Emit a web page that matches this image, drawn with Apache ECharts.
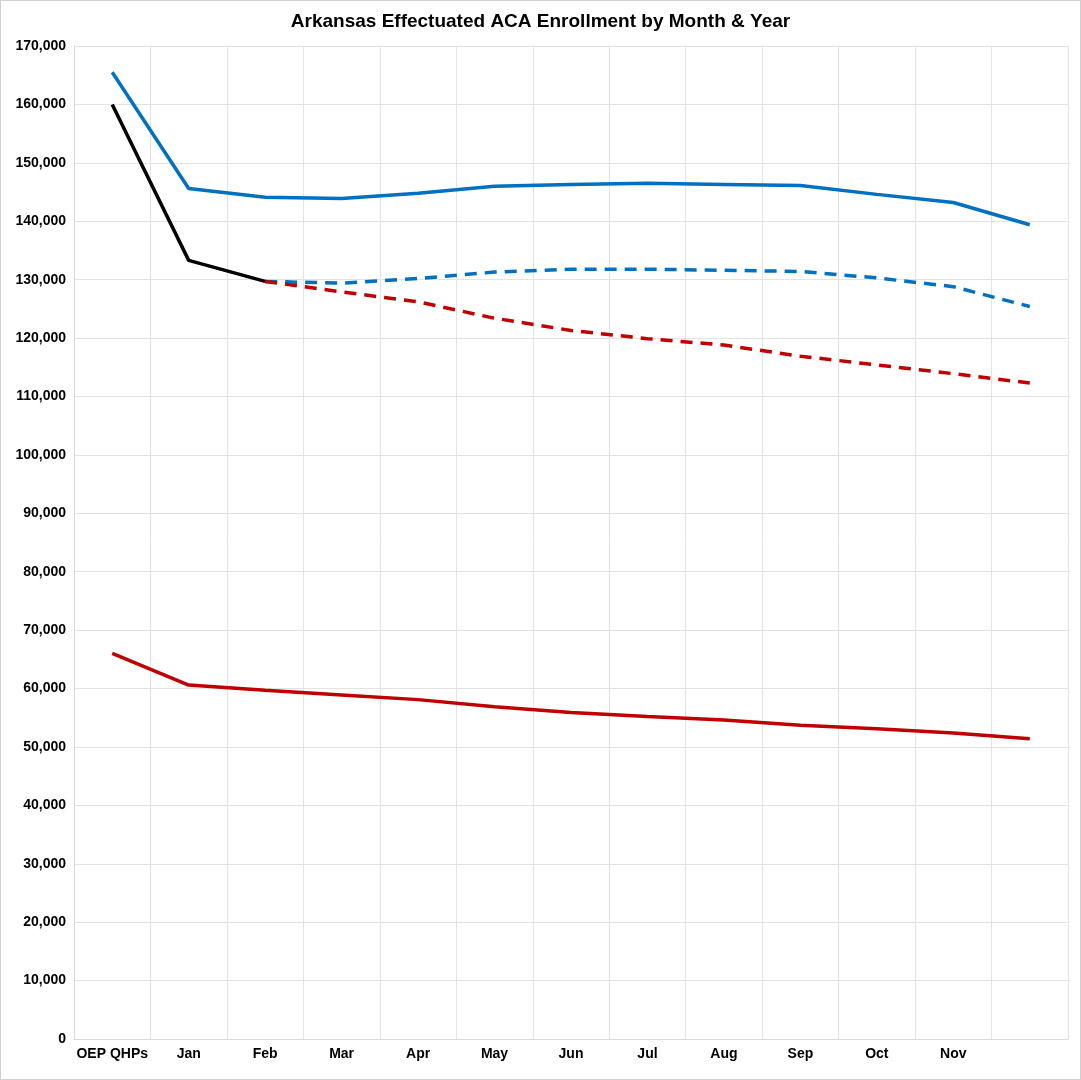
<!DOCTYPE html>
<html>
<head>
<meta charset="utf-8">
<script src="https://cdn.jsdelivr.net/npm/echarts@6/dist/echarts.min.js"></script>
<style>
html, body { margin: 0; padding: 0; background: #fff; }
#chart { width: 1081px; height: 1080px; box-sizing: border-box; border: 1px solid #d0d0d0; }
</style>
</head>
<body>
<div id="chart"></div>
<script>
// categories (last month has no label in the original)
var months = ['OEP QHPs', 'Jan', 'Feb', 'Mar', 'Apr', 'May', 'Jun', 'Jul', 'Aug', 'Sep', 'Oct', 'Nov', ''];

var y2025 = [165500, 145600, 144100, 143900, 144800, 146000, 146300, 146500, 146300, 146100, 144600, 143200, 139400];
var y2026 = [160000, 133300, 129700, null, null, null, null, null, null, null, null, null, null];
var model2025 = [null, null, 129700, 129400, 130200, 131300, 131800, 131800, 131600, 131400, 130300, 128800, 125400];
var model2019 = [null, null, 129700, 127900, 126200, 123400, 121300, 119900, 118800, 116900, 115400, 113900, 112300];
var y2019 = [66000, 60600, 59700, 58900, 58100, 56900, 55900, 55200, 54600, 53700, 53100, 52400, 51400];

var BLUE = '#0070C0', RED = '#C00000';

function firstLabel(arr, text, extra) {
    return arr.map(function (v, i) {
        if (i !== 0) return v;
        return {
            value: v,
            label: Object.assign({
                show: true, formatter: text, position: 'top', offset: [2, 0],
                fontWeight: 'bold', fontSize: 17, color: '#000'
            }, extra || {})
        };
    });
}

function lastLabel(arr, text) {
    var n = arr.length - 1;
    return arr.map(function (v, i) {
        if (i !== n) return v;
        return {
            value: v,
            label: {
                show: true, formatter: text, position: 'bottom', offset: [-36, -12],
                fontWeight: 'bold', fontSize: 13, color: '#000'
            }
        };
    });
}

function lineSeries(name, data, color, dashed, z) {
    return {
        name: name, type: 'line', data: data,
        symbol: 'circle', symbolSize: 1, showSymbol: true,
        lineStyle: { color: color, width: 3.5, type: dashed ? [12, 8] : 'solid' },
        itemStyle: { color: color, opacity: 0 },
        z: z
    };
}

var chart = echarts.init(document.getElementById('chart'));

chart.setOption({
    animation: false,
    title: {
        text: 'Arkansas Effectuated ACA Enrollment by Month & Year',
        left: 'center', top: 6,
        textStyle: { fontSize: 19, fontWeight: 'bold', color: '#000', fontFamily: 'Liberation Sans' }
    },
    textStyle: { fontFamily: 'Liberation Sans' },
    grid: { left: 73, right: 12, top: 45, bottom: 40 },
    xAxis: {
        type: 'category',
        data: months,
        boundaryGap: true,
        axisLine: { lineStyle: { color: '#d9d9d9' } },
        axisTick: { show: false },
        splitLine: { show: true, lineStyle: { color: '#e3e3e3' } },
        axisLabel: { fontWeight: 'bold', fontSize: 14, color: '#000', interval: 0 }
    },
    yAxis: {
        type: 'value',
        min: 0, max: 170000, interval: 10000,
        axisLine: { show: true, lineStyle: { color: '#d9d9d9' } },
        splitLine: { lineStyle: { color: '#e3e3e3' } },
        axisLabel: {
            fontWeight: 'bold', fontSize: 14, color: '#000',
            formatter: function (v) { return v.toLocaleString('en-US'); }
        }
    },
    series: [
        lineSeries('2025', firstLabel(y2025, '2025'), BLUE, false, 3),
        lineSeries('2026', firstLabel(y2026, '2026', {
            position: 'bottom', offset: [2, -12], fontSize: 20, textBorderColor: '#000', textBorderWidth: 4, color: '#fff'
        }), '#000', false, 4),
        lineSeries('2025 model', lastLabel(model2025, '(2025 model)'), BLUE, true, 3),
        lineSeries('2019 model', lastLabel(model2019, '(2019 model)'), RED, true, 3),
        lineSeries('2019', firstLabel(y2019, '2019'), RED, false, 3),
        {
            // grey band over the open enrollment column
            type: 'line', data: months.map(function () { return null; }), z: 2, zlevel: 0,
            symbol: 'none', silent: true,
            markArea: {
                silent: true, z: 10,
                itemStyle: { color: 'rgba(205,205,205,0.55)' },
                data: [[{ xAxis: 'OEP QHPs', yAxis: 0 }, { xAxis: 'OEP QHPs', yAxis: 170000 }]]
            }
        }
    ]
});
</script>
</body>
</html>
